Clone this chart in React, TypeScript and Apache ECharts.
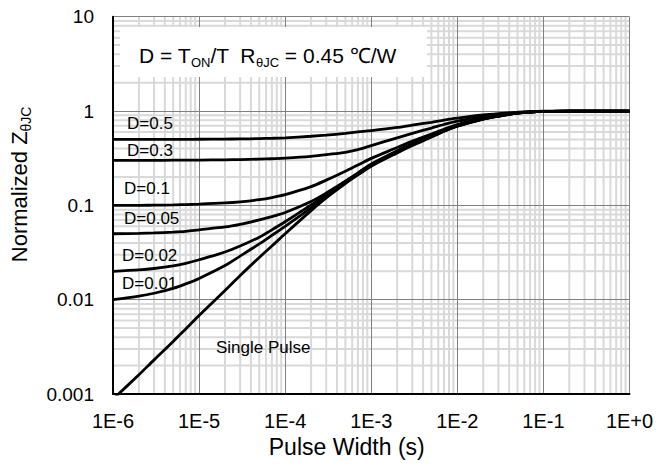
import React, { useEffect, useRef } from "react";
import * as echarts from "echarts";

const pulseWidths = [
  1e-6, 2e-6, 3e-6, 5e-6, 7e-6,
  1e-5, 2e-5, 3e-5, 5e-5, 7e-5,
  1e-4, 2e-4, 3e-4, 5e-4, 7e-4,
  1e-3, 2e-3, 3e-3, 5e-3, 7e-3,
  1e-2, 2e-2, 3e-2, 5e-2, 7e-2,
  1e-1, 2e-1, 3e-1, 5e-1, 7e-1,
  1,
];

const zD05 = [0.5, 0.5, 0.5, 0.5, 0.501, 0.502, 0.504, 0.506, 0.51, 0.514, 0.52, 0.54, 0.555, 0.58, 0.6, 0.62, 0.67, 0.71, 0.76, 0.8, 0.84, 0.91, 0.94, 0.97, 0.985, 0.995, 1, 1, 1, 1, 1];
const zD03 = [0.3, 0.3, 0.3, 0.301, 0.301, 0.302, 0.304, 0.306, 0.309, 0.312, 0.316, 0.33, 0.345, 0.365, 0.39, 0.43, 0.52, 0.58, 0.66, 0.72, 0.78, 0.87, 0.92, 0.96, 0.98, 0.99, 1, 1, 1, 1, 1];
const zD01 = [0.1, 0.1, 0.1005, 0.101, 0.102, 0.103, 0.106, 0.109, 0.115, 0.121, 0.13, 0.158, 0.185, 0.23, 0.268, 0.315, 0.41, 0.48, 0.57, 0.64, 0.72, 0.84, 0.9, 0.955, 0.978, 0.99, 1, 1, 1, 1, 1];
const zD005 = [0.05, 0.0505, 0.051, 0.052, 0.053, 0.055, 0.059, 0.063, 0.07, 0.076, 0.084, 0.11, 0.135, 0.18, 0.22, 0.275, 0.38, 0.45, 0.55, 0.62, 0.7, 0.83, 0.89, 0.95, 0.975, 0.99, 1, 1, 1, 1, 1];
const zD002 = [0.02, 0.0207, 0.0214, 0.0228, 0.0243, 0.0265, 0.032, 0.037, 0.046, 0.055, 0.067, 0.101, 0.131, 0.178, 0.22, 0.27, 0.37, 0.445, 0.54, 0.615, 0.695, 0.825, 0.885, 0.95, 0.975, 0.99, 1, 1, 1, 1, 1];
const zD001 = [0.01, 0.0109, 0.0117, 0.0132, 0.0147, 0.0168, 0.023, 0.029, 0.039, 0.048, 0.06, 0.094, 0.123, 0.174, 0.215, 0.265, 0.365, 0.437, 0.535, 0.612, 0.692, 0.822, 0.882, 0.95, 0.975, 0.99, 1, 1, 1, 1, 1];
const zSingle = [0.00088, 0.0016, 0.0023, 0.0036, 0.0049, 0.0068, 0.0125, 0.018, 0.028, 0.037, 0.05, 0.088, 0.12, 0.17, 0.21, 0.26, 0.36, 0.43, 0.53, 0.61, 0.69, 0.82, 0.88, 0.95, 0.975, 0.99, 1, 1, 1, 1, 1];

const curveNames = ["D=0.5", "D=0.3", "D=0.1", "D=0.05", "D=0.02", "D=0.01", "Single Pulse"];
const curveValues = [zD05, zD03, zD01, zD005, zD002, zD001, zSingle];

const xTickLabels = ["1E-6", "1E-5", "1E-4", "1E-3", "1E-2", "1E-1", "1E+0"];
const yTickLabels = ["0.001", "0.01", "0.1", "1", "10"];

const X_MIN = 1e-6, X_MAX = 1, Y_MIN = 0.001, Y_MAX = 10;

const minorMultipliers = [2, 3, 4, 5, 6, 7, 8, 9];
const xDecades = [1e-6, 1e-5, 1e-4, 1e-3, 1e-2, 1e-1];
const yDecades = [1e-3, 1e-2, 1e-1, 1];

const FONT = '"Liberation Sans", Arial, sans-serif';

export default function App() {
  const ref = useRef<HTMLDivElement>(null);
  useEffect(() => {
    if (!ref.current) return;
    const chart = echarts.init(ref.current, null, { renderer: "svg" });

    const minorX: number[][] = [];
    xDecades.forEach((d) => minorMultipliers.forEach((m) => minorX.push([m * d, 1])));
    const minorY: number[][] = [];
    yDecades.forEach((d) => minorMultipliers.forEach((m) => minorY.push([1e-3, m * d])));

    const curveSeries = curveNames.map((name, ci) => ({
      name,
      type: "line",
      data: pulseWidths.map((t, i) => [t, curveValues[ci][i]]),
      showSymbol: false,
      smooth: 0.3,
      clip: true,
      silent: true,
      z: 3,
      lineStyle: { color: "#000", width: 2.8 },
    }));

    const labelText = (text: string, x: number, y: number, size = 17) => ({
      type: "text",
      x,
      y,
      z: 10,
      style: {
        text,
        fill: "#000",
        font: `${size}px ${FONT}`,
        align: "left",
        verticalAlign: "middle",
      },
    });

    chart.setOption({
      animation: false,
      backgroundColor: "#fff",
      grid: { left: 111.5, right: 29.5, top: 16.7, bottom: 72 },
      xAxis: {
        type: "log",
        logBase: 10,
        min: X_MIN,
        max: X_MAX,
        z: 2,
        name: "Pulse Width (s)",
        nameLocation: "middle",
        nameGap: 41,
        nameTextStyle: { fontFamily: FONT, fontSize: 23, color: "#000", padding: [0, 49, 0, 0] },
        axisLine: { show: true, lineStyle: { color: "#000", width: 2 } },
        axisTick: { show: false },
        splitLine: { show: true, lineStyle: { color: "#808080", width: 1 } },
        axisLabel: {
          fontFamily: FONT,
          fontSize: 20,
          color: "#000",
          margin: 17,
          formatter: (v: number) => xTickLabels[Math.round(Math.log10(v)) + 6],
        },
      },
      yAxis: {
        type: "log",
        logBase: 10,
        min: Y_MIN,
        max: Y_MAX,
        z: 2,
        name: "{a|Normalized Z}{s|θJC}",
        nameLocation: "middle",
        nameGap: 80,
        nameTextStyle: {
          fontFamily: FONT,
          color: "#000",
          padding: [0, 0, 0, 42],
          rich: {
            a: { fontFamily: FONT, fontSize: 22, lineHeight: 28, verticalAlign: "middle", color: "#000" },
            s: { fontFamily: FONT, fontSize: 14, lineHeight: 14, verticalAlign: "bottom", color: "#000" },
          },
        },
        axisLine: { show: true, lineStyle: { color: "#000", width: 2 } },
        axisTick: { show: false },
        splitLine: { show: true, lineStyle: { color: "#808080", width: 1 } },
        axisLabel: {
          fontFamily: FONT,
          fontSize: 19,
          color: "#000",
          margin: 19,
          formatter: (v: number) => yTickLabels[Math.round(Math.log10(v)) + 3],
        },
      },
      graphic: [
        {
          type: "rect",
          z: 5,
          shape: { x: 120, y: 27, width: 307, height: 50 },
          style: { fill: "#fff" },
        },
        {
          type: "text",
          x: 139,
          y: 55,
          z: 6,
          style: {
            text: "{a|D = T}{s|ON}{a|/T  R}{s|θJC}{a| = 0.45 ℃/W}",
            align: "left",
            verticalAlign: "middle",
            rich: {
              a: { fontFamily: FONT, fontSize: 21, lineHeight: 28, verticalAlign: "middle", fill: "#000" },
              s: { fontFamily: FONT, fontSize: 13, lineHeight: 13, verticalAlign: "bottom", fill: "#000" },
            },
          },
        },
        labelText("D=0.5", 127, 123),
        labelText("D=0.3", 127, 150),
        labelText("D=0.1", 124, 188),
        labelText("D=0.05", 124, 218),
        labelText("D=0.02", 122, 255),
        labelText("D=0.01", 122, 283),
        labelText("Single Pulse", 216, 347),
      ],
      series: [
        {
          type: "custom",
          silent: true,
          z: 1,
          clip: false,
          data: minorX,
          renderItem: (_p: any, api: any) => {
            const x = api.value(0);
            const a = api.coord([x, Y_MIN]);
            const b = api.coord([x, Y_MAX]);
            return {
              type: "line",
              shape: { x1: a[0], y1: a[1], x2: b[0], y2: b[1] },
              style: { stroke: "#d9d9d9", lineWidth: 2 },
            };
          },
        },
        {
          type: "custom",
          silent: true,
          z: 1,
          clip: false,
          data: minorY,
          renderItem: (_p: any, api: any) => {
            const y = api.value(1);
            const a = api.coord([X_MIN, y]);
            const b = api.coord([X_MAX, y]);
            return {
              type: "line",
              shape: { x1: a[0], y1: a[1], x2: b[0], y2: b[1] },
              style: { stroke: "#d9d9d9", lineWidth: 2 },
            };
          },
        },
        ...curveSeries,
      ],
    });

    return () => chart.dispose();
  }, []);

  return (
    <div
      ref={ref}
      style={{ position: "fixed", left: 0, top: 0, width: 659, height: 466, background: "#fff" }}
    />
  );
}
